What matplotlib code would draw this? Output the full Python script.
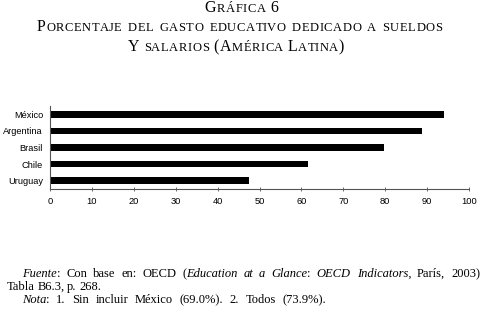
import matplotlib
matplotlib.use('Agg')
import matplotlib.pyplot as plt
from matplotlib.font_manager import FontProperties

# datos: porcentaje del gasto educativo dedicado a sueldos y salarios
paises = ['México', 'Argentina', 'Brasil', 'Chile', 'Uruguay']
porcentajes = [94.0, 88.7, 79.7, 61.5, 47.5]
ticks_x = [0, 10, 20, 30, 40, 50, 60, 70, 80, 90, 100]

W, H = 486, 320
SERIF = 'Liberation Serif'
fig = plt.figure(figsize=(W / 100, H / 100), dpi=100)
renderer = fig.canvas.get_renderer()


def text_width(s, size, style):
    if not s:
        return 0.0
    fp = FontProperties(family=SERIF, size=size, style=style)
    return renderer.get_text_width_height_descent(s, fp, ismath=False)[0]


def put_words(words, ytop, x0=None, xc=None, x1=None, gap=3.0, track=0.0):
    """words: lista de palabras, cada una lista de (texto, tamaño, estilo)."""
    y = H - ytop
    items, widths = [], []
    for word in words:
        parts, w = [], 0.0
        for txt, size, style in word:
            # con espaciado entre letras se coloca letra a letra
            pieces = list(enumerate(txt)) if track else [(0, txt)]
            for i, ch in pieces:
                off = w + text_width(txt[:i], size, style) + i * track
                t = fig.text(0, y, ch, fontsize=size, style=style, family=SERIF,
                             transform=None, ha='left', va='baseline')
                parts.append((t, off))
            w += text_width(txt, size, style) + len(txt) * track
        items.append(parts)
        widths.append(w)
    if x1 is not None and x0 is not None and len(words) > 1:
        gap = (x1 - x0 - sum(widths)) / (len(words) - 1)
    total = sum(widths) + gap * (len(words) - 1)
    if xc is not None:
        x0 = xc - total / 2
    x = x0
    for parts, w in zip(items, widths):
        for t, off in parts:
            t.set_x(x + off)
        x += w + gap


# titulo en versalitas
BIG, SMALL, TR = 11.5, 9.0, 0.6
def sc(*runs):
    return [(txt, BIG if big else SMALL, 'normal') for txt, big in runs]

put_words([sc(('G', 1), ('RÁFICA', 0)), sc(('6', 1))], 11.5, xc=242, gap=4.5, track=TR)
put_words([sc(('P', 1), ('ORCENTAJE', 0)), sc(('DEL', 0)), sc(('GASTO', 0)),
           sc(('EDUCATIVO', 0)), sc(('DEDICADO', 0)), sc(('A', 0)), sc(('SUELDOS', 0))],
          31, x0=37, x1=443, track=TR)
put_words([sc(('Y', 1)), sc(('SALARIOS', 0)), sc(('(', 1), ('A', 1), ('MÉRICA', 0)),
           sc(('L', 1), ('ATINA', 0), (')', 1))],
          51, xc=236, gap=4.0, track=TR)

# grafica de barras
ax = fig.add_axes([50 / W, 1 - 189 / H, 419 / W, 83 / H])
ax.barh(range(len(paises)), porcentajes, height=0.4, color='black')
ax.set_ylim(len(paises) - 0.5, -0.5)
ax.set_xlim(0, 100)
ax.set_xticks(ticks_x)
ax.set_yticks(range(len(paises)))
ax.set_yticklabels(paises)
for s in ['top', 'right']:
    ax.spines[s].set_visible(False)
for s in ['left', 'bottom']:
    ax.spines[s].set_color('#555555')
    ax.spines[s].set_linewidth(0.8)
ax.tick_params(axis='x', direction='inout', length=3, width=0.6, color='#555555',
               labelsize=6.7, pad=4)
ax.tick_params(axis='y', length=0, labelsize=6.7, pad=5)
for lab in ax.get_xticklabels() + ax.get_yticklabels():
    lab.set_family('Liberation Sans')

# notas al pie (primera linea justificada)
FS = 9.0
rm, it = 'normal', 'italic'
put_words([[('Fuente', FS, it), (':', FS, rm)], [('Con', FS, rm)], [('base', FS, rm)],
           [('en:', FS, rm)], [('OECD', FS, rm)], [('(', FS, rm), ('Education', FS, it)],
           [('at', FS, it)], [('a', FS, it)], [('Glance', FS, it), (':', FS, rm)],
           [('OECD', FS, it)], [('Indicators,', FS, it)], [('París,', FS, rm)],
           [('2003)', FS, rm)]],
          277, x0=22, x1=480)
put_words([[(w, FS, rm)] for w in 'Tabla B6.3, p. 268.'.split()], 290, x0=7, gap=2.6)
put_words([[('Nota', FS, it), (':', FS, rm)]] +
          [[(w, FS, rm)] for w in '1. Sin incluir México (69.0%). 2. Todos (73.9%).'.split()],
          303, x0=22, x1=326)

fig.savefig('out.png', dpi=100)
